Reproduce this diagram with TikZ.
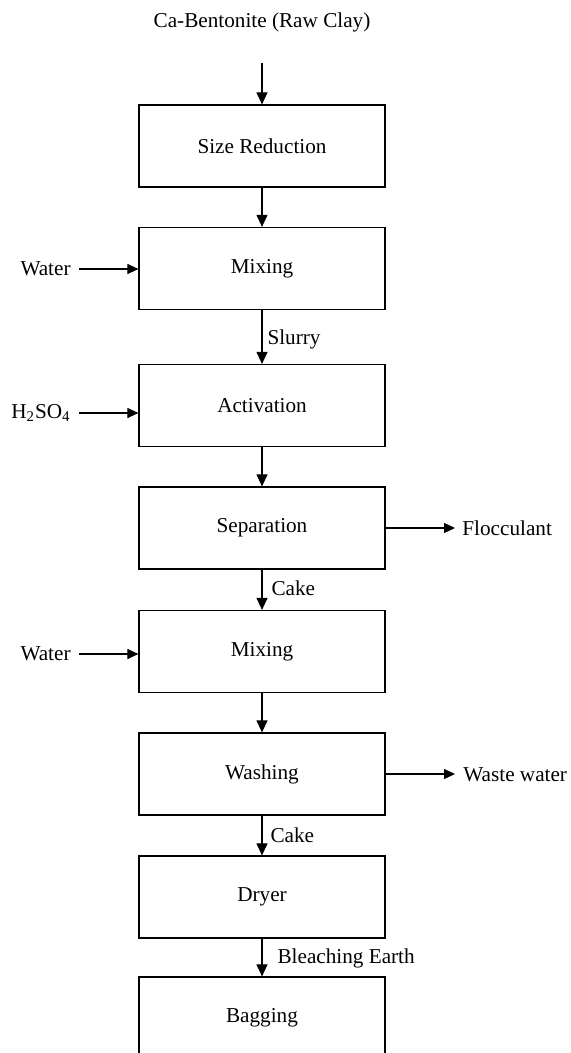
\documentclass[tikz,border=0pt]{standalone}
\usepackage{fontspec}
\setmainfont{Liberation Serif}
\usetikzlibrary{arrows.meta}
\begin{document}
\begin{tikzpicture}[x=0.5pt,y=-0.5pt,
  font=\fontsize{10.6}{12.7}\selectfont,
  proc/.style={draw, line width=0.6pt, minimum width=123pt, minimum height=41pt, inner sep=0pt},
  lbl/.style={inner sep=0pt},
  flow/.style={-{Triangle[length=6pt,width=5.5pt]}, line width=0.55pt},
  side/.style={-{Triangle[length=5.5pt,width=5pt]}, line width=0.55pt}]
\useasboundingbox (0,0) rectangle (570,1053);
\clip (0,0) rectangle (570,1053);
\node[lbl] (raw) at (262,22) {Ca-Bentonite (Raw Clay)};
\coordinate (rawend) at (262,63);
\node[proc] (sr) at (262,146) {Size Reduction};
\node[proc] (mix1) at (262,268.5) {Mixing};
\node[proc] (act) at (262,405.5) {Activation};
\node[proc] (sep) at (262,528) {Separation};
\node[proc] (mix2) at (262,651.5) {Mixing};
\node[proc] (wash) at (262,774) {Washing};
\node[proc] (dry) at (262,897) {Dryer};
\node[proc] (bag) at (262,1018) {Bagging};

\node[lbl, anchor=east] (w1) at (71,269) {Water};
\node[lbl, anchor=east] (acid) at (71,413) {H\textsubscript{2}SO\textsubscript{4}};
\node[lbl, anchor=east] (w2) at (71,654) {Water};
\node[lbl, anchor=west] (floc) at (462,528) {Flocculant};
\node[lbl, anchor=west] (waste) at (463,775) {Waste water};

\draw[flow] (rawend) -- (sr.north);
\draw[flow] (sr) -- (mix1);
\draw[flow] (mix1) -- node[lbl, anchor=west, xshift=2.5pt, yshift=-1pt] {Slurry} (act);
\draw[flow] (act) -- (sep);
\draw[flow] (sep) -- node[lbl, anchor=west, xshift=4.5pt, yshift=1pt] {Cake} (mix2);
\draw[flow] (mix2) -- (wash);
\draw[flow] (wash) -- node[lbl, anchor=west, xshift=4pt, yshift=0pt] {Cake} (dry);
\draw[flow] (dry) -- node[lbl, anchor=west, xshift=7.5pt, yshift=-0.5pt] {Bleaching Earth} (bag);

\draw[side, shorten <=4pt] (w1.east) -- (mix1.west |- w1.east);
\draw[side, shorten <=4pt] (acid.east) -- (act.west |- acid.east);
\draw[side, shorten <=4pt] (w2.east) -- (mix2.west |- w2.east);
\draw[side, shorten >=3.5pt] (sep.east) -- (sep.east -| floc.west);
\draw[side, shorten >=4pt] (wash.east) -- (wash.east -| waste.west);
\end{tikzpicture}
\end{document}
